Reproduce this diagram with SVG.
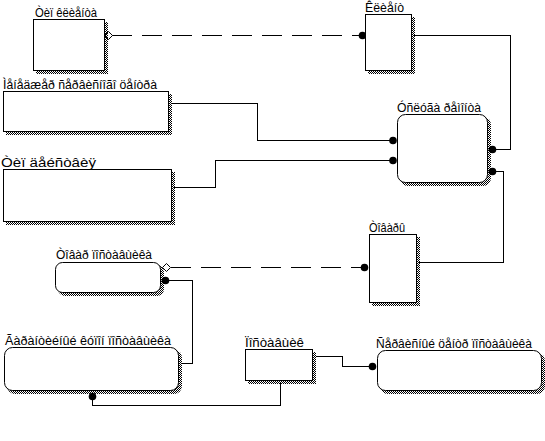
<svg xmlns="http://www.w3.org/2000/svg" width="545" height="441" viewBox="0 0 545 441">
<defs>
<pattern id="hatch" x="0" y="0" width="2" height="2" patternUnits="userSpaceOnUse">
<rect x="0" y="0" width="1" height="1" fill="#000"/>
<rect x="1" y="1" width="1" height="1" fill="#000"/>
</pattern>
<style>
.lbl{font-family:"Liberation Sans",Arial,sans-serif;font-size:12px;fill:#000}
.box{fill:#fff;stroke:#000;stroke-width:1;shape-rendering:crispEdges}
.rbox{fill:#fff;stroke:#000;stroke-width:1}
.sh{fill:url(#hatch);stroke:none}
.ln{fill:none;stroke:#000;stroke-width:1;shape-rendering:crispEdges}
.dash{fill:none;stroke:#000;stroke-width:1;stroke-dasharray:20 10;shape-rendering:crispEdges}
.dot{fill:#000}
.dia{fill:#fff;stroke:#000;stroke-width:1}
</style>
</defs>
<rect width="545" height="441" fill="#fff"/>

<g id="connectors">
<path class="dash" d="M112 35.5 H359"/>
<path class="ln" d="M414 35.5 H510.5 V149.5 H494"/>
<path class="ln" d="M171 103.5 H257.5 V140.5 H391"/>
<path class="ln" d="M174 187.5 H215.5 V160.5 H391"/>
<path class="ln" d="M494 171.5 H503.5 V262.5 H419"/>
<path class="dash" d="M171 267.5 H361"/>
<path class="ln" d="M167 280.5 H192.5 V363.5 H181"/>
<path class="ln" d="M92.5 397 V405.5 H280.5 V383"/>
<path class="ln" d="M316 356.5 H342.5 V366.5 H370"/>
<circle class="dot" cx="362.5" cy="35.5" r="3.8"/>
<path class="dia" d="M104.5 35.5 L108.5 31.5 L112.5 35.5 L108.5 39.5 Z"/>
<circle class="dot" cx="492.5" cy="149.5" r="3.8"/>
<circle class="dot" cx="393" cy="140.5" r="3.8"/>
<circle class="dot" cx="393" cy="160.5" r="3.8"/>
<circle class="dot" cx="492.5" cy="171.5" r="3.8"/>
<circle class="dot" cx="364.5" cy="267.5" r="3.8"/>
<path class="dia" d="M162.5 267.5 L166.5 263.5 L170.5 267.5 L166.5 271.5 Z"/>
<circle class="dot" cx="165.5" cy="280.5" r="3.8"/>
<circle class="dot" cx="92.5" cy="396.5" r="3.8"/>
<circle class="dot" cx="372.5" cy="366.5" r="3.8"/>
</g>

<g id="n-tip-klienta">
<rect class="sh" x="36" y="22" width="72" height="52"/>
<rect class="box" x="33.5" y="19.5" width="71" height="51"/>
<text class="lbl" x="35" y="17" textLength="62" lengthAdjust="spacingAndGlyphs">Òèï êëèåíòà</text>
</g>

<g id="n-klient">
<rect class="sh" x="368" y="17" width="47" height="57"/>
<rect class="box" x="365.5" y="14.5" width="46" height="56"/>
<text class="lbl" x="365" y="12" textLength="39" lengthAdjust="spacingAndGlyphs">Êëèåíò</text>
</g>

<g id="n-menedzher">
<rect class="sh" x="6" y="94" width="166" height="41"/>
<rect class="box" x="3.5" y="91.5" width="165" height="40"/>
<text class="lbl" x="3" y="89" textLength="154" lengthAdjust="spacingAndGlyphs">Ìåíåäæåð ñåðâèñíîãî öåíòðà</text>
</g>

<g id="n-tip-deystviya">
<rect class="sh" x="6" y="172" width="169" height="53"/>
<rect class="box" x="3.5" y="169.5" width="168" height="52"/>
<text class="lbl" x="1" y="167" textLength="95" lengthAdjust="spacingAndGlyphs">Òèï äåéñòâèÿ</text>
</g>

<g id="n-usluga">
<rect class="sh" x="400" y="117" width="91" height="69" rx="8"/>
<rect class="rbox" x="397.5" y="114.5" width="90" height="68" rx="8"/>
<text class="lbl" x="397" y="112" textLength="84" lengthAdjust="spacingAndGlyphs">Óñëóãà ðåìîíòà</text>
</g>

<g id="n-tovary">
<rect class="sh" x="372" y="237" width="48" height="69"/>
<rect class="box" x="369.5" y="234.5" width="47" height="68"/>
<text class="lbl" x="369" y="232" textLength="36" lengthAdjust="spacingAndGlyphs">Òîâàðû</text>
</g>

<g id="n-tovar-postavshchika">
<rect class="sh" x="58" y="265" width="106" height="31" rx="7"/>
<rect class="rbox" x="55.5" y="262.5" width="105" height="30" rx="7"/>
<text class="lbl" x="56" y="259" textLength="96" lengthAdjust="spacingAndGlyphs">Òîâàð ïîñòàâùèêà</text>
</g>

<g id="n-garantiyny">
<rect class="sh" x="7" y="350" width="175" height="44" rx="8"/>
<rect class="rbox" x="4.5" y="347.5" width="174" height="43" rx="8"/>
<text class="lbl" x="5" y="345" textLength="166" lengthAdjust="spacingAndGlyphs">Ãàðàíòèéíûé êóïîí ïîñòàâùèêà</text>
</g>

<g id="n-postavshchik">
<rect class="sh" x="248" y="352" width="68" height="32"/>
<rect class="box" x="245.5" y="349.5" width="67" height="31"/>
<text class="lbl" x="245" y="347" textLength="59" lengthAdjust="spacingAndGlyphs">Ïîñòàâùèê</text>
</g>

<g id="n-servisny-centr">
<rect class="sh" x="380" y="353" width="165" height="41" rx="8"/>
<rect class="rbox" x="377.5" y="350.5" width="164" height="40" rx="8"/>
<text class="lbl" x="376" y="348" textLength="156" lengthAdjust="spacingAndGlyphs">Ñåðâèñíûé öåíòð ïîñòàâùèêà</text>
</g>
</svg>
